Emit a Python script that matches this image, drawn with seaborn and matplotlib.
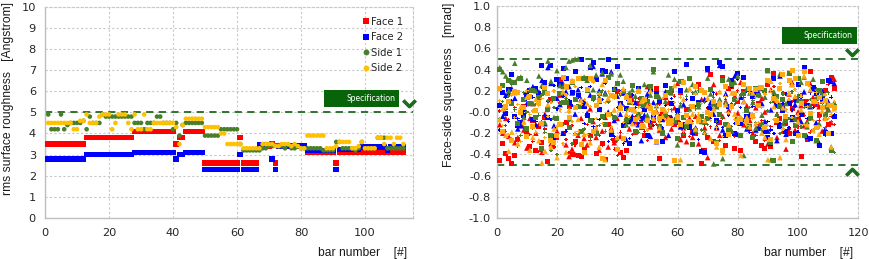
import numpy as np
import pandas as pd
import matplotlib
matplotlib.use("Agg")
import matplotlib.pyplot as plt
import seaborn as sns
from matplotlib.path import Path
from matplotlib.patches import Rectangle

# ---- roughness data (left panel), one value per bar ----
bars_rough = list(range(1, 113))
face1 = ([3.5] * 12 + [3.8] * 15 + [4.1] * 13 + [3.5] + [3.8] * 2 + [4.1] * 6
         + [2.6] * 11 + [3.8] + [2.6] * 5 + [3.4] * 4 + [3.5] + [2.6] + [3.4] * 9
         + [3.1] * 9 + [2.6] + [3.1] * 21)
face2 = ([2.8] * 12 + [3.0] * 15 + [3.1] * 13 + [2.8] + [3.0] * 2 + [3.1] * 6
         + [2.3] * 11 + [3.0] + [2.3] * 5 + [3.45] * 4 + [2.8] + [2.3] + [3.4] * 9
         + [3.2] * 9 + [2.3] + [3.25] * 7 + [3.35] * 8 + [3.2] + [3.35] * 5)
side1 = [4.9, 4.2, 4.2, 4.2, 4.9, 4.2, 4.4, 4.5, 4.5, 4.5, 4.5, 4.6,
         4.2, 4.8, 4.5, 4.5, 4.5, 4.9, 4.8, 4.8, 4.8, 4.8, 4.8, 4.8, 4.8, 4.8, 4.8,
         4.5, 4.5, 4.5, 4.2, 4.5, 4.5, 4.5, 4.8, 4.8, 4.5, 4.5, 4.5, 4.2,
         4.5, 3.9, 4.4, 4.5, 4.5, 4.5, 4.5, 4.5, 4.5,
         3.9, 3.9, 3.9, 3.9, 3.9, 4.2, 4.2, 4.2, 4.2, 4.2, 4.2, 3.5,
         3.2, 3.2, 3.2, 3.2, 3.2, 3.2, 3.3, 3.3, 3.4, 3.4,
         3.45, 3.45, 3.4, 3.3, 3.45, 3.3, 3.3, 3.4, 3.3, 3.3,
         3.3, 3.3, 3.3, 3.3, 3.3, 3.2, 3.2, 3.2, 3.2,
         3.6, 3.6, 3.3, 3.3, 3.3, 3.3, 3.2, 3.3, 3.6, 3.3,
         3.3, 3.3, 3.3, 3.8, 3.8, 3.8, 3.3, 3.3, 3.3, 3.3, 3.3, 3.3]
side2 = [4.5, 4.5, 4.5, 4.5, 4.5, 4.5, 4.5, 4.5, 4.2, 4.2, 4.6, 4.6,
         4.9, 4.5, 4.5, 4.5, 4.8, 4.9, 4.9, 4.9, 4.2, 4.5, 4.9, 4.9, 4.9, 4.5, 4.2,
         4.9, 4.2, 4.2, 4.9, 4.2, 4.2, 4.5, 4.5, 4.5, 4.5, 4.5, 4.5, 4.5,
         4.3, 3.5, 4.4, 4.7, 4.7, 4.7, 4.7, 4.7, 4.7,
         4.3, 4.3, 4.3, 4.3, 4.3, 4.0, 4.0, 3.5, 3.5, 3.5, 3.5, 3.5,
         3.3, 3.3, 3.3, 3.3, 3.3, 3.3, 3.5, 3.5, 3.5, 3.5,
         3.4, 3.4, 3.5, 3.5, 3.5, 3.4, 3.5, 3.4, 3.3, 3.3,
         3.9, 3.9, 3.9, 3.9, 3.9, 3.9, 3.3, 3.3, 3.3,
         3.4, 3.6, 3.6, 3.6, 3.6, 3.3, 3.3, 3.4, 3.6, 3.3,
         3.3, 3.3, 3.3, 3.8, 3.8, 3.5, 3.8, 3.8, 3.5, 3.8, 3.8, 3.5]

# ---- squareness data (right panel) [mrad], one value per bar and series ----
bars_sq = list(range(1, 113))
red_square = [-0.46, -0.30, -0.39, -0.44, -0.49, -0.41, -0.26, -0.12, 0.05, -0.20, -0.33, -0.08, -0.36, -0.14,
              -0.29, -0.05, -0.47, 0.12, -0.25, -0.24, 0.31, -0.20, -0.10, 0.05, -0.40, -0.28, -0.41, -0.42,
              -0.35, 0.32, -0.22, -0.18, -0.39, 0.10, -0.30, -0.45, -0.12, -0.20, -0.27, 0.19, -0.38, -0.43,
              -0.36, 0.16, -0.06, -0.10, 0.08, -0.15, -0.22, 0.05, -0.12, -0.08, 0.22, -0.44, -0.02, 0.14,
              -0.05, 0.20, -0.12, -0.10, 0.18, -0.22, 0.02, -0.14, -0.18, -0.20, 0.26, -0.49, -0.36, -0.24,
              0.35, -0.28, 0.06, -0.10, 0.33, -0.32, 0.22, 0.24, -0.34, 0.10, -0.36, 0.19, 0.02, -0.04,
              0.16, -0.28, 0.08, -0.32, -0.34, 0.26, -0.33, 0.36, -0.10, -0.06, 0.05, -0.11, -0.20, 0.03,
              0.12, -0.07, -0.42, 0.10, -0.26, 0.38, 0.09, 0.07, -0.02, 0.12, 0.20, -0.12, 0.33, 0.22]
red_triangle = [-0.12, -0.20, -0.06, -0.23, -0.26, -0.29, -0.24, 0.01, -0.17, -0.34, -0.06, 0.08, -0.20, -0.12,
                -0.38, -0.02, 0.06, -0.30, -0.22, -0.18, 0.16, 0.27, -0.31, -0.42, -0.35, -0.40, -0.22, -0.06,
                -0.25, -0.31, 0.03, -0.09, -0.24, -0.36, -0.18, -0.05, -0.33, -0.15, -0.29, -0.06, -0.23, 0.18,
                -0.05, -0.16, 0.12, -0.19, -0.02, -0.08, 0.06, 0.24, -0.14, -0.03, 0.01, -0.17, -0.06, -0.24,
                0.09, -0.16, 0.04, 0.27, -0.26, -0.15, -0.28, -0.06, -0.24, -0.04, -0.30, 0.12, -0.15, -0.43,
                0.08, 0.26, -0.15, -0.22, -0.04, 0.10, 0.02, -0.18, 0.15, -0.01, 0.28, -0.12, 0.06, -0.08,
                -0.20, 0.04, -0.12, 0.13, 0.00, -0.30, 0.21, 0.11, -0.24, 0.07, -0.18, -0.35, 0.17, 0.28,
                -0.17, 0.00, 0.06, -0.13, -0.09, 0.27, 0.14, -0.27, 0.05, -0.18, -0.05, 0.03, -0.10, 0.31]
red_small = [0.01, -0.18, -0.13, -0.07, -0.26, 0.04, -0.32, -0.11, -0.15, 0.06, -0.21, -0.28, 0.02, -0.37,
             -0.09, -0.16, -0.05, -0.28, -0.33, -0.14, 0.09, -0.11, -0.26, -0.38, -0.13, -0.31, -0.18, 0.04,
             -0.39, -0.12, -0.27, -0.07, -0.14, -0.22, -0.31, -0.03, 0.11, -0.26, -0.35, -0.41, -0.19, -0.11,
             -0.13, 0.02, -0.21, -0.04, 0.13, -0.09, -0.18, -0.27, 0.03, -0.06, -0.12, 0.07, -0.16, 0.00,
             -0.07, -0.11, 0.15, -0.02, 0.21, -0.19, -0.13, -0.23, -0.09, -0.16, 0.22, -0.38, -0.20, 0.03,
             -0.14, 0.04, 0.17, -0.27, -0.06, 0.12, -0.02, 0.08, -0.23, 0.20, -0.05, 0.14, -0.11, -0.17,
             0.09, -0.22, 0.05, -0.08, -0.27, 0.01, -0.14, 0.24, -0.02, -0.12, 0.18, -0.07, -0.16, 0.10,
             0.05, -0.14, 0.16, -0.03, 0.11, -0.19, 0.06, 0.22, -0.08, 0.14, -0.21, 0.26, -0.04, -0.12]
blue_square = [0.06, 0.18, -0.01, 0.21, 0.35, -0.04, -0.13, -0.10, -0.03, 0.16, 0.20, -0.07, 0.22, 0.17,
               0.44, 0.28, -0.05, 0.44, -0.26, 0.31, 0.26, 0.41, 0.32, 0.09, 0.18, 0.38, 0.16, 0.50,
               0.05, -0.03, 0.42, 0.47, 0.31, 0.02, 0.39, 0.38, 0.50, -0.21, 0.21, 0.43, 0.08, -0.13,
               0.03, -0.30, -0.08, -0.07, 0.22, -0.06, 0.02, -0.22, 0.21, -0.02, 0.17, 0.10, -0.28, 0.25,
               -0.10, 0.08, 0.38, 0.01, 0.20, -0.12, 0.45, -0.15, 0.13, -0.17, 0.09, -0.37, -0.38, 0.41,
               0.03, 0.10, -0.08, 0.47, 0.43, -0.22, 0.05, 0.30, -0.20, 0.36, -0.11, 0.33, -0.04, 0.21,
               0.15, 0.18, -0.16, 0.22, -0.18, -0.24, -0.30, 0.32, 0.06, -0.14, 0.01, -0.18, 0.08, -0.05,
               -0.20, 0.26, -0.02, 0.42, 0.06, -0.25, 0.23, 0.17, -0.32, 0.13, -0.19, 0.30, -0.20, -0.04]
blue_triangle = [0.07, -0.04, 0.16, 0.18, 0.22, 0.13, -0.16, -0.13, 0.04, 0.08, 0.21, 0.24, -0.12, 0.19,
                 0.30, -0.11, 0.42, 0.27, -0.13, 0.13, 0.07, -0.20, 0.19, 0.24, 0.18, -0.02, 0.21, 0.12,
                 0.10, -0.01, 0.16, 0.43, -0.17, 0.20, 0.36, 0.18, 0.00, 0.38, -0.08, 0.15, -0.02, 0.18,
                 -0.26, -0.09, -0.04, 0.09, -0.12, -0.27, -0.03, 0.17, -0.23, 0.09, -0.28, -0.04, -0.07, 0.19,
                 -0.22, -0.05, -0.09, -0.01, -0.14, 0.07, -0.12, -0.11, -0.19, -0.15, -0.08, -0.36, 0.12, 0.40,
                 0.09, -0.02, -0.14, 0.44, -0.17, 0.17, -0.12, 0.27, 0.34, -0.21, 0.14, 0.10, -0.16, -0.02,
                 -0.03, -0.17, 0.18, 0.08, -0.09, -0.18, 0.02, 0.16, -0.27, 0.34, 0.06, -0.21, 0.11, -0.07,
                 0.07, 0.12, -0.09, 0.19, -0.23, 0.05, 0.22, -0.10, -0.29, 0.20, -0.16, 0.10, 0.29, 0.27]
blue_small = [-0.17, 0.05, 0.14, -0.09, 0.11, 0.02, -0.06, -0.11, 0.01, 0.12, -0.02, 0.14, -0.09, 0.07,
              0.23, -0.03, 0.10, -0.07, 0.25, 0.03, -0.13, 0.15, -0.18, 0.11, 0.06, -0.20, 0.14, 0.23,
              -0.11, 0.07, 0.24, -0.14, 0.33, -0.07, 0.12, 0.27, -0.28, 0.16, -0.23, 0.04, 0.19, -0.30,
              0.12, -0.25, 0.16, 0.04, -0.11, 0.07, -0.05, 0.14, -0.09, -0.13, 0.00, 0.11, -0.15, 0.06,
              -0.04, 0.13, -0.07, 0.02, -0.10, -0.16, 0.12, -0.14, -0.21, 0.05, -0.26, 0.08, -0.12, 0.04,
              -0.06, 0.18, -0.10, 0.43, -0.15, 0.06, -0.03, 0.23, -0.11, 0.31, 0.04, -0.08, 0.20, -0.19,
              0.05, -0.12, 0.21, -0.04, 0.13, -0.09, -0.17, -0.20, 0.15, -0.11, 0.08, 0.17, -0.15, 0.02,
              0.10, -0.19, 0.14, 0.07, -0.06, 0.18, 0.04, 0.08, -0.13, 0.16, -0.22, 0.05, 0.14, -0.03]
green_square = [0.40, 0.25, 0.04, 0.30, 0.08, 0.28, -0.11, 0.32, 0.12, -0.16, 0.08, 0.20, -0.05, 0.14,
                -0.34, 0.18, 0.02, -0.22, 0.13, -0.06, 0.17, 0.09, 0.09, -0.15, 0.28, 0.12, 0.05, -0.18,
                0.32, 0.20, -0.08, 0.14, -0.20, 0.17, -0.04, -0.12, 0.33, 0.16, -0.05, 0.27, 0.03, 0.19,
                -0.08, 0.09, 0.25, -0.18, -0.02, 0.13, 0.06, 0.10, 0.24, 0.40, 0.15, -0.14, -0.19, -0.02,
                0.18, 0.22, -0.09, -0.25, 0.29, -0.05, -0.14, 0.32, -0.31, -0.17, 0.07, -0.04, -0.10, -0.06,
                0.21, 0.07, -0.29, -0.02, 0.30, -0.12, -0.17, 0.26, 0.12, -0.07, -0.22, 0.17, 0.01, -0.14,
                -0.24, 0.22, 0.16, -0.12, 0.20, 0.39, -0.29, -0.46, 0.15, 0.05, 0.12, -0.08, 0.36, -0.28,
                -0.13, 0.32, 0.10, -0.22, 0.27, -0.06, 0.10, -0.27, 0.20, 0.29, -0.02, 0.06, -0.36, 0.05]
green_triangle = [0.42, 0.38, 0.34, 0.20, 0.29, 0.46, 0.32, 0.33, -0.05, 0.30, 0.21, 0.08, 0.20, 0.34,
                  0.25, -0.10, 0.48, 0.29, -0.05, 0.39, 0.25, 0.24, 0.42, 0.48, 0.49, 0.50, 0.50, 0.32,
                  0.33, 0.30, 0.44, 0.21, 0.35, 0.14, 0.37, 0.17, 0.12, 0.36, 0.22, 0.27, 0.35, 0.29,
                  -0.12, 0.18, 0.21, 0.15, 0.22, 0.08, 0.26, -0.03, 0.16, 0.38, 0.06, 0.14, -0.20, 0.10,
                  0.35, 0.18, 0.31, -0.31, 0.06, 0.29, 0.21, 0.03, 0.26, 0.19, 0.05, -0.09, -0.19, 0.32,
                  0.17, -0.49, 0.05, 0.12, -0.44, 0.09, 0.31, -0.18, 0.28, 0.34, -0.22, -0.41, 0.22, 0.18,
                  0.09, -0.15, 0.23, -0.03, 0.14, 0.39, -0.45, 0.19, -0.02, 0.36, -0.11, 0.08, 0.37, 0.26,
                  -0.06, 0.11, 0.28, 0.33, -0.14, 0.06, 0.31, 0.13, -0.11, 0.17, 0.05, 0.02, -0.33, 0.09]
green_small = [-0.06, 0.10, -0.18, 0.15, 0.26, 0.02, -0.09, -0.22, 0.18, 0.00, 0.13, -0.15, 0.07, -0.03,
               0.16, -0.19, 0.11, -0.36, 0.04, -0.40, 0.08, -0.12, 0.13, -0.08, -0.30, 0.05, -0.21, 0.10,
               -0.16, 0.07, -0.24, 0.11, 0.05, -0.13, 0.20, -0.18, 0.09, -0.02, 0.14, -0.27, 0.16, 0.06,
               0.02, -0.06, -0.11, 0.13, -0.19, 0.04, -0.08, 0.11, -0.13, 0.00, 0.07, -0.09, 0.03, -0.05,
               -0.12, 0.02, -0.06, -0.02, 0.08, -0.21, 0.15, -0.08, 0.18, 0.03, 0.20, -0.17, 0.09, -0.12,
               -0.03, 0.14, -0.09, 0.19, -0.05, 0.10, -0.20, -0.14, 0.07, -0.12, 0.16, -0.07, -0.15, 0.04,
               0.11, -0.10, 0.06, -0.17, 0.21, 0.01, 0.09, 0.13, -0.09, -0.20, 0.17, 0.07, -0.06, 0.19,
               -0.08, 0.15, -0.14, 0.04, -0.10, 0.12, -0.17, 0.21, -0.05, 0.08, -0.15, 0.18, -0.09, -0.38]
orange_square = [0.22, -0.18, 0.05, 0.10, -0.27, 0.19, 0.18, 0.00, 0.04, -0.23, 0.15, -0.14, 0.01, 0.09,
                 -0.11, 0.23, 0.17, -0.27, -0.29, -0.22, -0.12, 0.33, 0.24, -0.05, 0.29, 0.04, 0.32, -0.31,
                 -0.38, 0.21, 0.32, -0.18, 0.06, 0.11, -0.44, 0.30, -0.02, 0.16, 0.15, -0.35, 0.03, -0.25,
                 0.14, 0.11, 0.02, -0.07, 0.19, -0.14, 0.12, -0.08, 0.03, 0.00, -0.28, -0.06, 0.02, 0.16,
                 -0.11, -0.08, -0.46, -0.05, -0.12, 0.28, -0.03, -0.09, 0.05, 0.24, -0.08, 0.20, 0.18, 0.00,
                 -0.02, 0.10, -0.30, 0.07, -0.36, 0.24, -0.21, 0.05, 0.17, -0.10, -0.07, 0.26, -0.09, 0.22,
                 -0.03, 0.21, 0.06, 0.23, -0.15, 0.30, -0.26, 0.13, -0.08, 0.22, 0.35, -0.04, 0.30, 0.39,
                 0.32, -0.22, 0.08, 0.38, 0.27, -0.01, 0.10, -0.15, 0.14, 0.04, 0.11, -0.20, 0.06, 0.04]
orange_triangle = [-0.07, 0.03, -0.22, -0.37, -0.19, 0.18, -0.30, 0.05, -0.09, 0.14, -0.36, -0.24, 0.12, -0.27,
                   -0.48, -0.37, 0.07, -0.33, -0.16, -0.43, -0.11, 0.19, -0.38, 0.02, 0.30, -0.20, -0.07, 0.11,
                   -0.21, 0.08, -0.29, 0.31, -0.15, -0.33, 0.26, -0.45, 0.13, -0.17, 0.02, -0.24, 0.07, 0.22,
                   -0.02, 0.03, -0.11, 0.01, -0.05, 0.10, -0.13, 0.06, 0.20, -0.06, 0.00, -0.15, -0.04, 0.01,
                   -0.06, -0.10, 0.25, -0.03, -0.45, 0.12, -0.09, 0.22, -0.02, -0.16, -0.04, 0.21, -0.08, 0.13,
                   -0.25, 0.03, -0.33, 0.19, -0.38, 0.07, -0.12, 0.18, -0.02, -0.06, -0.41, 0.10, -0.05, -0.14,
                   0.18, -0.11, 0.23, -0.20, -0.24, -0.45, 0.29, 0.05, 0.12, -0.43, 0.04, -0.26, 0.18, 0.26,
                   0.15, -0.09, 0.02, 0.34, -0.12, 0.21, -0.17, 0.10, -0.21, 0.01, -0.06, 0.07, -0.33, 0.03]
orange_small = [0.11, -0.13, 0.03, -0.21, 0.16, -0.05, 0.07, -0.28, -0.12, 0.20, -0.02, 0.01, -0.19, 0.06,
                0.13, -0.24, -0.04, 0.09, 0.20, -0.14, 0.02, -0.30, 0.16, 0.00, -0.09, 0.24, -0.18, 0.07,
                0.12, -0.21, 0.05, 0.28, -0.06, 0.17, -0.11, 0.09, 0.19, -0.14, 0.13, -0.03, 0.18, -0.10,
                0.16, -0.04, 0.08, -0.13, 0.04, -0.01, 0.10, -0.17, 0.07, -0.03, 0.05, -0.10, 0.13, -0.07,
                0.02, -0.13, 0.09, -0.06, 0.14, -0.18, -0.04, 0.06, -0.11, 0.17, -0.02, 0.08, -0.20, 0.11,
                -0.08, 0.04, -0.15, 0.10, -0.23, 0.15, -0.01, 0.03, -0.07, 0.12, -0.04, 0.08, -0.13, 0.18,
                -0.06, 0.14, -0.10, 0.04, 0.17, -0.13, 0.20, -0.07, 0.09, 0.27, -0.16, 0.02, 0.12, -0.05,
                0.21, -0.03, 0.15, -0.12, 0.05, 0.24, -0.08, 0.18, -0.14, 0.09, 0.16, -0.06, -0.02, 0.10]

rough_spec = 5.0
square_spec = 0.5

# ---- styling ----
sns.set_theme(style="whitegrid")
plt.rcParams.update({
    'font.family': ['DejaVu Sans'],
    'axes.unicode_minus': False,
    'grid.color': '#c8c8c8',
    'grid.linestyle': (0, (2, 2)),
    'grid.linewidth': 0.8,
    'xtick.color': '#262626',
    'ytick.color': '#262626',
    'xtick.labelsize': 8.2,
    'ytick.labelsize': 8.2,
})
spec_green = '#1e6b1e'
box_green = '#086408'
label_font = dict(family='Liberation Sans', size=8.7, color='#1a1a1a')

fig = plt.figure(figsize=(8.69, 2.59), dpi=100)
ax1 = fig.add_axes([0.0518, 0.1583, 0.4235, 0.8158])
ax2 = fig.add_axes([0.5716, 0.1583, 0.4161, 0.8185])

# chevron marker
chevron_down = Path([(-1, 0.5), (0, -0.5), (1, 0.5)], [Path.MOVETO, Path.LINETO, Path.LINETO])
chevron_up = Path([(-1, -0.5), (0, 0.5), (1, -0.5)], [Path.MOVETO, Path.LINETO, Path.LINETO])


def style_axes(ax, ypad):
    ax.set_facecolor('white')
    ax.tick_params(axis='x', length=0, pad=7)
    ax.tick_params(axis='y', length=0, pad=ypad)
    for side in ['left', 'bottom']:
        ax.spines[side].set_color('#bfbfbf')
        ax.spines[side].set_linewidth(1.0)
    for side in ['top', 'right']:
        ax.spines[side].set_color('#c8c8c8')
        ax.spines[side].set_linestyle((0, (2, 2)))
        ax.spines[side].set_linewidth(0.8)
    ax.set_axisbelow(True)


def spec_box(ax, x0, y0, w, h, tx):
    ax.add_patch(Rectangle((x0, y0), w, h, transform=ax.transAxes, facecolor=box_green,
                           edgecolor='none', clip_on=False, zorder=5))
    ax.text(tx, y0 + h / 2, 'Specification', transform=ax.transAxes, ha='right', va='center',
            color='white', fontsize=6.2, family='Lato', zorder=6)


# ---- left: rms surface roughness ----
rough = pd.concat([
    pd.DataFrame({'bar': bars_rough, 'value': face1, 'surface': 'Face 1'}),
    pd.DataFrame({'bar': bars_rough, 'value': face2, 'surface': 'Face 2'}),
    pd.DataFrame({'bar': bars_rough, 'value': side1, 'surface': 'Side 1'}),
    pd.DataFrame({'bar': bars_rough, 'value': side2, 'surface': 'Side 2'}),
])
rough_palette = {'Face 1': '#ff0000', 'Face 2': '#0000ff', 'Side 1': '#4a7f2a', 'Side 2': '#ffc000'}
rough_markers = {'Face 1': 's', 'Face 2': 's', 'Side 1': 'o', 'Side 2': 'o'}
rough_sizes = {'Face 1': 16, 'Face 2': 16, 'Side 1': 11, 'Side 2': 11}

style_axes(ax1, 6.5)
ax1.axhline(rough_spec, color=spec_green, ls=(0, (4, 3)), lw=1.3, zorder=1)
sns.scatterplot(data=rough, x='bar', y='value', hue='surface', style='surface', size='surface',
                palette=rough_palette, markers=rough_markers, sizes=rough_sizes,
                linewidth=0, ax=ax1, zorder=3)
ax1.set_xlim(0, 115)
ax1.set_ylim(0, 10)
ax1.set_xticks(range(0, 101, 20))
ax1.set_yticks(range(0, 11))
ax1.set_xlabel('bar number    [#]', **label_font)
ax1.set_ylabel('rms surface roughness   [Angstrom]', **label_font)
ax1.xaxis.set_label_coords(0.985, -0.135)
ax1.xaxis.label.set_ha('right')
ax1.yaxis.set_label_coords(-0.084, 0.565)

handles, labels = ax1.get_legend_handles_labels()
for h in handles:
    h.set_markersize(4.2)
    h.set_markeredgewidth(0)
leg = ax1.legend(handles[-4:], labels[-4:], loc='upper right', bbox_to_anchor=(0.99, 0.98),
                 frameon=False, fontsize=7.2, handletextpad=0.05, labelspacing=0.55,
                 borderaxespad=0.2, handlelength=1.0)

spec_box(ax1, 0.759, 0.525, 0.204, 0.081, 0.954)
ax1.plot([0.989], [0.545], marker=chevron_down, markersize=9, mew=2.6, color=spec_green,
         fillstyle='none', transform=ax1.transAxes, clip_on=False, zorder=6, ls='none')

# ---- right: face-side squareness ----
sq_series = {
    ('red', 'square'): red_square, ('red', 'triangle'): red_triangle, ('red', 'small'): red_small,
    ('blue', 'square'): blue_square, ('blue', 'triangle'): blue_triangle, ('blue', 'small'): blue_small,
    ('green', 'square'): green_square, ('green', 'triangle'): green_triangle, ('green', 'small'): green_small,
    ('orange', 'square'): orange_square, ('orange', 'triangle'): orange_triangle, ('orange', 'small'): orange_small,
}
sq = pd.concat([pd.DataFrame({'bar': bars_sq, 'value': v, 'color': c, 'shape': s})
                for (c, s), v in sq_series.items()])
sq_palette = {'red': '#ff0000', 'blue': '#0000ff', 'green': '#4a7f2a', 'orange': '#ffaa10'}
sq_markers = {'square': 's', 'triangle': '^', 'small': 'P'}
sq_sizes = {'square': 13, 'triangle': 16, 'small': 6}

style_axes(ax2, 4)
ax2.axhline(square_spec, color=spec_green, ls=(0, (4, 3)), lw=1.3, zorder=1)
ax2.axhline(-square_spec, color=spec_green, ls=(0, (4, 3)), lw=1.3, zorder=1)
sns.scatterplot(data=sq, x='bar', y='value', hue='color', style='shape', size='shape',
                palette=sq_palette, markers=sq_markers, sizes=sq_sizes,
                linewidth=0, legend=False, ax=ax2, zorder=3)
ax2.set_xlim(0, 120)
ax2.set_ylim(-1.0, 1.0)
ax2.set_xticks(range(0, 121, 20))
ax2.set_yticks(np.round(np.arange(-1.0, 1.01, 0.2), 1))
ax2.yaxis.set_major_formatter(matplotlib.ticker.FormatStrFormatter('%.1f'))
ax2.set_xlabel('bar number    [#]', **label_font)
ax2.set_ylabel('Face-side squareness   [mrad]', **label_font)
ax2.xaxis.set_label_coords(0.985, -0.135)
ax2.xaxis.label.set_ha('right')
ax2.yaxis.set_label_coords(-0.115, 0.63)

spec_box(ax2, 0.788, 0.821, 0.208, 0.08, 0.985)
ax2.plot([0.982], [0.782], marker=chevron_down, markersize=9, mew=2.6, color=spec_green,
         fillstyle='none', transform=ax2.transAxes, clip_on=False, zorder=6, ls='none')
ax2.plot([0.982], [0.218], marker=chevron_up, markersize=9, mew=2.6, color=spec_green,
         fillstyle='none', transform=ax2.transAxes, clip_on=False, zorder=6, ls='none')

fig.savefig('out.png', dpi=100, facecolor='white')
